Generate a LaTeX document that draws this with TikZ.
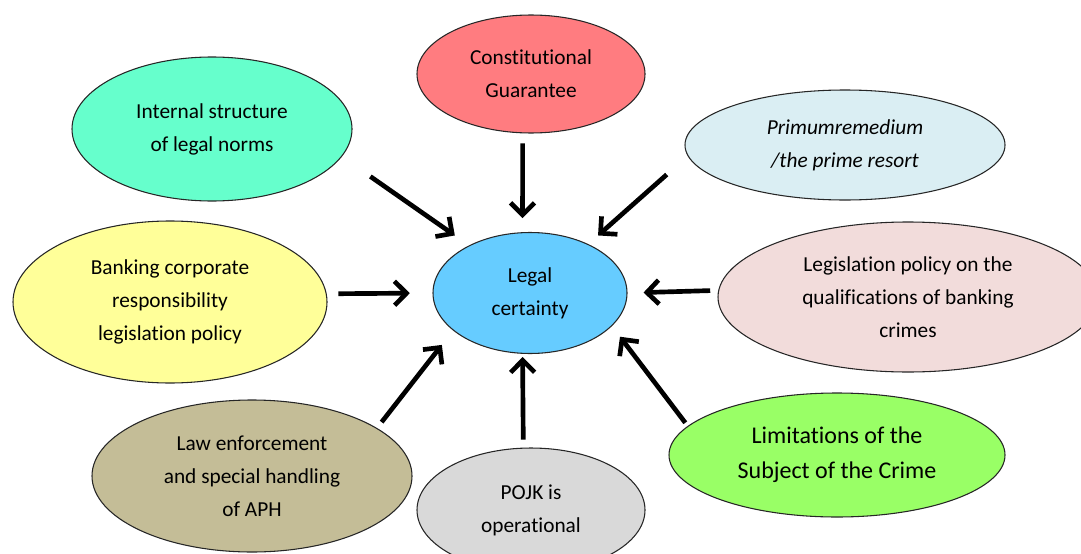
\documentclass[tikz,border=0pt]{standalone}
\usepackage{fontspec}
\setmainfont{Carlito}[Ligatures=NoCommon]
\usetikzlibrary{shapes.geometric,arrows.meta}
\definecolor{CertBlue}{RGB}{102,204,255}
\definecolor{NormMint}{RGB}{102,255,204}
\definecolor{GuarRed}{RGB}{255,124,128}
\definecolor{PrimeIce}{RGB}{218,238,243}
\definecolor{BankYellow}{RGB}{255,255,153}
\definecolor{QualPink}{RGB}{242,220,219}
\definecolor{LawKhaki}{RGB}{196,189,151}
\definecolor{PojkGrey}{RGB}{217,217,217}
\definecolor{SubjGreen}{RGB}{153,255,102}

\begin{document}
\begin{tikzpicture}[
x=0.75pt,y=-0.75pt,
bubble/.style={ellipse,draw=black!85,line width=0.8pt,inner sep=0pt,align=center,
font=\fontsize{16}{24.75}\selectfont},
arrow/.style={-{Straight Barb[length=9pt,width=18pt]},line width=3.5pt}
]
\clip (0,0) rectangle (1081,553);
\node[bubble,fill=CertBlue,minimum width=145.5pt,minimum height=90.75pt] (lc) at (530,293) {Legal\\certainty};
\node[bubble,fill=NormMint,minimum width=210pt,minimum height=108pt] (is) at (212,129) {Internal structure\\of legal norms};
\node[bubble,fill=GuarRed,minimum width=171pt,minimum height=88.5pt] (cg) at (531,74) {Constitutional\\Guarantee};
\node[bubble,fill=PrimeIce,minimum width=240pt,minimum height=82.5pt] (pr) at (845,145) {\itshape Primumremedium\\\itshape /the prime resort};
\node[bubble,fill=BankYellow,minimum width=235.5pt,minimum height=121.5pt] (bc) at (170,302) {Banking corporate\\responsibility\\legislation policy};
\node[bubble,fill=QualPink,minimum width=285pt,minimum height=112.5pt] (lp) at (908,297) {Legislation policy on the\\qualifications of banking\\crimes};
\node[bubble,fill=LawKhaki,minimum width=240pt,minimum height=114pt] (le) at (252,476) {Law enforcement\\and special handling\\of APH};
\node[bubble,fill=PojkGrey,minimum width=171pt,minimum height=93pt] (po) at (531,510) {POJK is\\operational};
\node[bubble,fill=SubjGreen,minimum width=252pt,minimum height=93pt,font=\fontsize{18}{26}\selectfont] (ls) at (837,455) {Limitations of the\\Subject of the Crime};
\draw[arrow,shorten <=26pt,shorten >=13pt] (is.-12) -- (lc.142);
\draw[arrow,shorten <=7.5pt,shorten >=10.5pt] (cg.262) -- (lc.97);
\draw[arrow,shorten <=21pt,shorten >=9.75pt] (pr.184) -- (lc.40);
\draw[arrow,shorten <=8.7pt,shorten >=17pt] (bc.3.3) -- (lc.180);
\draw[arrow,shorten <=6pt,shorten >=12pt] (lp.178.8) -- (lc.0);
\draw[arrow,shorten <=5.6pt,shorten >=13.7pt] (le.21) -- (lc.206);
\draw[arrow,shorten <=6pt,shorten >=2.4pt] (po.97) -- (lc.263);
\draw[arrow,shorten <=3pt,shorten >=10pt] (ls.169) -- (lc.338);
\end{tikzpicture}
\end{document}
